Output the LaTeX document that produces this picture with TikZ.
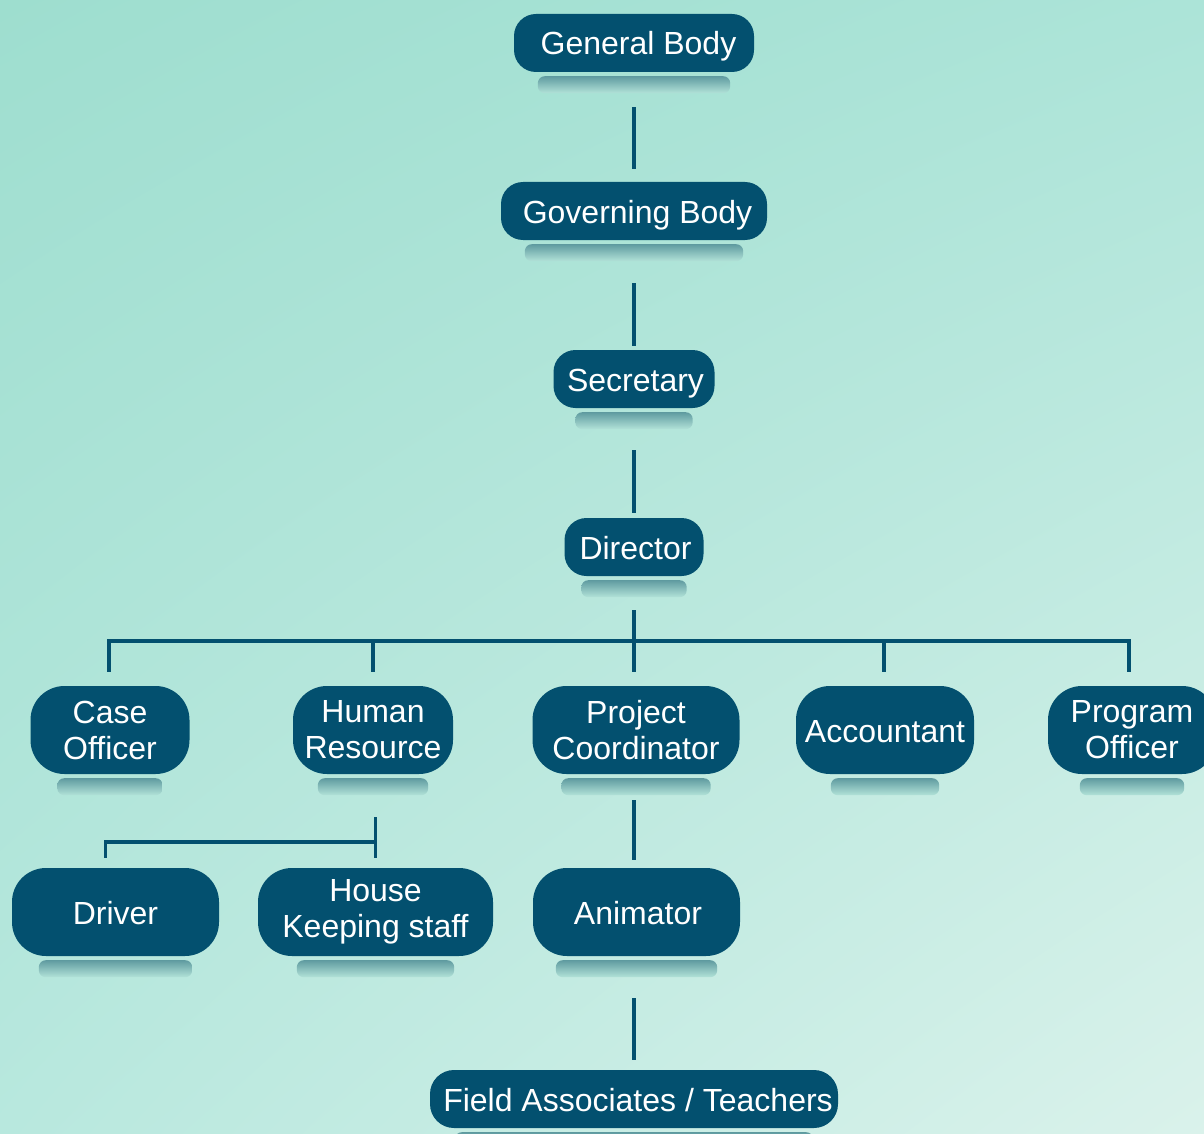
\documentclass[tikz,border=0pt]{standalone}
\usepackage{fontspec}
\setmainfont{Liberation Sans}
\usetikzlibrary{shadings}
\definecolor{nodeblue}{RGB}{3,80,111}
\definecolor{bgUL}{RGB}{158,222,207}
\definecolor{bgUR}{RGB}{172,228,216}
\definecolor{bgLL}{RGB}{184,232,222}
\definecolor{bgLR}{RGB}{218,242,235}
\definecolor{shadtop}{RGB}{95,155,160}
\definecolor{shadbot}{RGB}{178,226,216}
\tikzset{
  box/.style={fill=nodeblue, text=white, align=center, inner sep=0pt,
    font=\fontsize{32}{36}\selectfont},
  oneline/.style={text height=28pt, text depth=4pt},
  shortbox/.style={box, oneline, minimum height=58pt, rounded corners=22pt},
  tallbox/.style={box, minimum height=88pt, rounded corners=34pt},
  link/.style={draw=nodeblue, line width=3.2pt},
  shadowfill/.style={top color=shadtop, bottom color=shadbot, rounded corners=7pt}
}
\newcommand\shadowunder[2]{\shade[shadowfill] ([xshift=#2pt,yshift=-4pt]#1.south west) rectangle ([xshift=-#2pt,yshift=-21pt]#1.south east);}
\begin{document}
\begin{tikzpicture}[x=1pt,y=-1pt]
\useasboundingbox (0,0) rectangle (1204,1134);
\clip (0,0) rectangle (1204,1134);
\shade[upper left=bgUL, upper right=bgUR, lower left=bgLL, lower right=bgLR] (0,0) rectangle (1204,1134);

% nodes
\node[shortbox, minimum width=240pt] (gb) at (634,43) {\hspace*{9pt}General Body};
\node[shortbox, minimum width=266pt] (gov) at (634,211) {\hspace*{7pt}Governing Body};
\node[shortbox, minimum width=161pt] (sec) at (634,379) {\hspace*{3pt}Secretary};
\node[shortbox, minimum width=139pt] (dir) at (634,547) {\hspace*{3pt}Director};
\node[tallbox, minimum width=159pt] (case) at (110,730) {Case\\Officer};
\node[tallbox, minimum width=160pt] (hr) at (373,730) {Human\\Resource};
\node[tallbox, minimum width=207pt] (pc) at (636,730) {Project\\Coordinator};
\node[tallbox, oneline, minimum width=178pt] (acc) at (885,730) {Accountant};
\node[tallbox, minimum width=168pt] (prog) at (1132,730) {Program\\Officer};
\node[tallbox, oneline, minimum width=207pt] (drv) at (115.5,912) {Driver};
\node[tallbox, minimum width=235pt] (hk) at (375.5,912) {House\\Keeping staff};
\node[tallbox, oneline, minimum width=207pt] (anim) at (636.5,912) {\hspace*{3pt}Animator};
\node[shortbox, minimum width=408pt, rounded corners=24pt] (field) at (634,1099) {\hspace*{8pt}Field Associates / Teachers};

% shadows
\shadowunder{gb}{24}
\shadowunder{gov}{24}
\shadowunder{sec}{22}
\shadowunder{dir}{17}
\shadowunder{case}{27}
\shadowunder{hr}{25}
\shadowunder{pc}{29}
\shadowunder{acc}{35}
\shadowunder{prog}{32}
\shadowunder{drv}{27}
\shadowunder{hk}{39}
\shadowunder{anim}{23}
\shadowunder{field}{25}

% connectors
\draw[link] ([yshift=-35pt]gb.south) -- ([yshift=13pt]gov.north);
\draw[link] ([yshift=-43pt]gov.south) -- ([yshift=4pt]sec.north);
\draw[link] ([yshift=-42pt]sec.south) -- ([yshift=5pt]dir.north);
\coordinate (bar) at (634,641);
\draw[link] ([yshift=-34pt]dir.south) -- ([yshift=14pt]pc.north -| bar);
\draw[link] ([xshift=-1pt,yshift=14pt]case.north) -- ([xshift=-1pt]case.north |- bar) -- ([xshift=-3pt]prog.north |- bar) -- ([xshift=-3pt,yshift=14pt]prog.north);
\draw[link] (hr.north |- bar) -- ([yshift=14pt]hr.north);
\draw[link] ([xshift=-1pt]acc.north |- bar) -- ([xshift=-1pt,yshift=14pt]acc.north);
% HR to Driver / House Keeping
\coordinate (hbar) at (375,842);
\draw[link] ([yshift=-43pt]hr.south -| hk.north) -- ([yshift=10pt]hk.north);
\draw[link] (hbar) -| ([xshift=-10pt,yshift=10pt]drv.north);
% PC to Animator to Field
\draw[link] ([yshift=-26pt]pc.south -| bar) -- ([yshift=8pt]anim.north -| bar);
\draw[link] ([yshift=-42pt]anim.south -| field.north) -- ([yshift=10pt]field.north);
\end{tikzpicture}
\end{document}
